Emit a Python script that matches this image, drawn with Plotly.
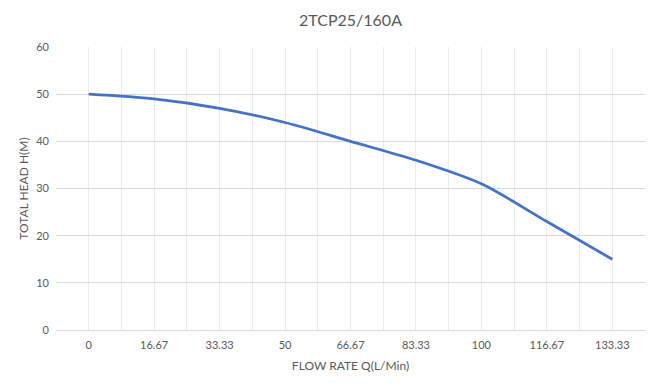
import plotly.graph_objects as go

categories = ["0", "16.67", "33.33", "50", "66.67", "83.33", "100", "116.67", "133.33"]
head = [50, 49, 47, 44, 40, 36, 31, 23, 15]

idx = list(range(len(categories)))

fig = go.Figure()
fig.add_trace(go.Scatter(
    x=idx, y=head, mode="lines",
    line=dict(color="#4472C4", width=2.75, shape="spline", smoothing=0.8),
    hoverinfo="skip", showlegend=False,
))

font_family = "Lato, Open Sans, sans-serif"
fig.update_layout(
    width=658, height=388,
    margin=dict(l=48, r=21, t=39, b=66),
    paper_bgcolor="white", plot_bgcolor="white",
    title=dict(text="2TCP25/160A", x=0.5, xanchor="center", xref="paper",
               y=0.969, yanchor="middle",
               font=dict(family=font_family, size=16, color="#595959")),
    font=dict(family=font_family, size=11, color="#595959"),
    xaxis=dict(
        range=[-0.5, len(categories) - 0.5],
        tickmode="array", tickvals=idx, ticktext=categories,
        showgrid=True, gridcolor="#EBEBEB", gridwidth=1,
        minor=dict(tickmode="array", tickvals=[i + 0.5 for i in range(-1, len(categories))],
                   showgrid=True, gridcolor="#EBEBEB", gridwidth=1),
        zeroline=False, showline=True, linecolor="#D9D9D9",
        ticks="", ticklabelstandoff=5, tickfont=dict(size=11, color="#595959"),
        title=dict(text="FLOW RATE Q(L/Min)", font=dict(size=12, color="#595959"), standoff=11),
    ),
    yaxis=dict(
        range=[0, 60], dtick=10,
        showgrid=True, gridcolor="#D9D9D9", gridwidth=1,
        zeroline=False, showline=False,
        ticks="", ticklabelstandoff=6, tickfont=dict(size=11, color="#595959"),
        title=dict(text="TOTAL HEAD H(M)", font=dict(size=12, color="#595959"), standoff=5),
    ),
)

fig.write_html("out.html")
